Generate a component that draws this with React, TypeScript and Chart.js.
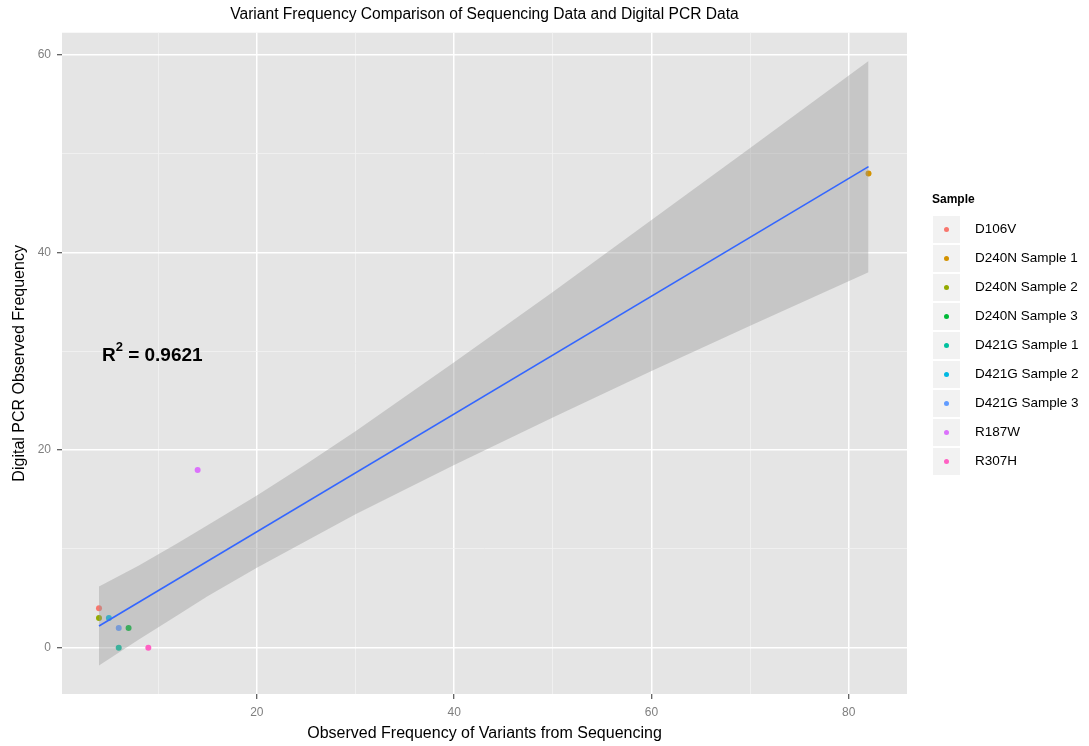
import React, { useEffect, useRef } from "react";
import { Chart, registerables } from "chart.js";

Chart.register(...registerables);

// ---- data ----
const sampleNames = [
  "D106V",
  "D240N Sample 1",
  "D240N Sample 2",
  "D240N Sample 3",
  "D421G Sample 1",
  "D421G Sample 2",
  "D421G Sample 3",
  "R187W",
  "R307H",
];
const sequencingFreq = [4, 82, 4, 7, 6, 5, 6, 14, 9];
const dpcrFreq = [4, 48, 3, 2, 0, 3, 2, 18, 0];
const sampleColors = [
  "#F8766D",
  "#D39200",
  "#93AA00",
  "#00BA38",
  "#00C19F",
  "#00B9E3",
  "#619CFF",
  "#DB72FB",
  "#FF61C3",
];

// confidence band of the linear fit
const bandX = [4, 8, 12, 15, 20, 25, 30, 40, 50, 60, 70, 82];
const bandLower = [-1.8, 0.8, 3.3, 5.2, 8.1, 10.8, 13.5, 18.5, 23.3, 28.0, 32.6, 38.0];
const bandUpper = [6.2, 8.3, 10.6, 12.4, 15.4, 18.6, 21.9, 28.9, 36.0, 43.3, 50.6, 59.4];
// fitted line end points
const fitX = [4, 82];
const fitY = [2.2, 48.7];

const xMajorTicks = [20, 40, 60, 80];
const xMinorTicks = [10, 30, 50, 70];
const yMajorTicks = [0, 20, 40, 60];
const yMinorTicks = [10, 30, 50];

const rSquaredText = "0.9621";
const rSquaredAt = { x: 9.4, y: 29.6 };

const titleText = "Variant Frequency Comparison of Sequencing Data and Digital PCR Data";
const xTitle = "Observed Frequency of Variants from Sequencing";
const yTitle = "Digital PCR Observed Frequency";
const legendTitle = "Sample";

const FONT = "'Liberation Sans', Arial, Helvetica, sans-serif";

export default function App() {
  const canvasRef = useRef<HTMLCanvasElement | null>(null);

  useEffect(() => {
    const canvas = canvasRef.current;
    if (!canvas) return;

    const panelPlugin = {
      id: "panelBg",
      beforeDraw(chart: any) {
        const { ctx, chartArea } = chart;
        ctx.save();
        ctx.fillStyle = "#FFFFFF";
        ctx.fillRect(0, 0, chart.width, chart.height);
        ctx.fillStyle = "#E5E5E5";
        ctx.fillRect(
          chartArea.left,
          chartArea.top,
          chartArea.right - chartArea.left,
          chartArea.bottom - chartArea.top
        );
        ctx.restore();
      },
    };

    const annotationPlugin = {
      id: "rsq",
      afterDatasetsDraw(chart: any) {
        const { ctx, scales } = chart;
        const cx = scales.x.getPixelForValue(rSquaredAt.x);
        const cy = scales.y.getPixelForValue(rSquaredAt.y);
        ctx.save();
        ctx.fillStyle = "#000000";
        ctx.textBaseline = "middle";
        const big = `bold 19px ${FONT}`;
        const small = `bold 13px ${FONT}`;
        ctx.font = big;
        const wR = ctx.measureText("R").width;
        const rest = " = " + rSquaredText;
        const wRest = ctx.measureText(rest).width;
        ctx.font = small;
        const w2 = ctx.measureText("2").width;
        const total = wR + w2 + wRest;
        let x = cx - total / 2;
        ctx.textAlign = "left";
        ctx.font = big;
        ctx.fillText("R", x, cy);
        x += wR;
        ctx.font = small;
        ctx.fillText("2", x, cy - 8);
        x += w2;
        ctx.font = big;
        ctx.fillText(rest, x, cy);
        ctx.restore();
      },
    };

    const legendPlugin = {
      id: "ggLegend",
      afterDraw(chart: any) {
        const { ctx, chartArea } = chart;
        const left = chartArea.right + 25;
        const keySize = 29;
        const top0 = 215;
        ctx.save();
        ctx.fillStyle = "#000000";
        ctx.font = `bold 12px ${FONT}`;
        ctx.textAlign = "left";
        ctx.textBaseline = "middle";
        ctx.fillText(legendTitle, left, 200);
        sampleNames.forEach((name, i) => {
          const y = top0 + i * keySize;
          ctx.fillStyle = "#F2F2F2";
          ctx.fillRect(left, y, keySize, keySize);
          ctx.strokeStyle = "#FFFFFF";
          ctx.lineWidth = 1;
          ctx.strokeRect(left + 0.5, y + 0.5, keySize - 1, keySize - 1);
          ctx.beginPath();
          ctx.fillStyle = sampleColors[i];
          ctx.arc(left + keySize / 2, y + keySize / 2, 2.5, 0, Math.PI * 2);
          ctx.fill();
          ctx.fillStyle = "#000000";
          ctx.font = `13.5px ${FONT}`;
          ctx.fillText(name, left + 43, y + keySize / 2);
        });
        ctx.restore();
      },
    };

    const pointSets = sampleNames.map((name, i) => ({
      label: name,
      data: [{ x: sequencingFreq[i], y: dpcrFreq[i] }],
      showLine: false,
      pointRadius: 3,
      pointHoverRadius: 3,
      pointBackgroundColor: sampleColors[i],
      pointBorderColor: sampleColors[i],
      pointBorderWidth: 0,
      order: 3,
    }));

    const gridColor = (majors: number[]) => (c: any) =>
      c.tick && majors.includes(c.tick.value) ? "#FFFFFF" : "#F2F2F2";
    const gridWidth = (majors: number[]) => (c: any) =>
      c.tick && majors.includes(c.tick.value) ? 1.5 : 0.8;
    const tickColor = (majors: number[]) => (c: any) =>
      c.tick && majors.includes(c.tick.value) ? "#333333" : "rgba(0,0,0,0)";

    const chart = new Chart(canvas, {
      type: "line",
      data: {
        datasets: [
          {
            label: "band lower",
            data: bandX.map((x, i) => ({ x, y: bandLower[i] })),
            borderWidth: 0,
            borderColor: "rgba(0,0,0,0)",
            pointRadius: 0,
            tension: 0,
            fill: false,
            order: 1,
          },
          {
            label: "band upper",
            data: bandX.map((x, i) => ({ x, y: bandUpper[i] })),
            borderWidth: 0,
            borderColor: "rgba(0,0,0,0)",
            backgroundColor: "rgba(153,153,153,0.4)",
            pointRadius: 0,
            tension: 0,
            fill: "-1",
            order: 1,
          },
          {
            label: "fit",
            data: fitX.map((x, i) => ({ x, y: fitY[i] })),
            borderColor: "#3366FF",
            borderWidth: 1.6,
            pointRadius: 0,
            fill: false,
            order: 0,
          },
          ...pointSets,
        ] as any,
      },
      plugins: [panelPlugin, annotationPlugin, legendPlugin],
      options: {
        animation: false,
        responsive: false,
        devicePixelRatio: 1,
        layout: { padding: { left: 0, right: 182, top: 0, bottom: 0 } },
        plugins: {
          legend: { display: false },
          tooltip: { enabled: false },
          title: {
            display: true,
            fullSize: false,
            text: titleText,
            color: "#000000",
            font: { family: FONT, size: 15.6, weight: "normal" },
            padding: { top: 5, bottom: 9 },
          },
        },
        scales: {
          x: {
            type: "linear",
            min: 0.25,
            max: 85.9,
            afterBuildTicks: (scale: any) => {
              scale.ticks = [...xMinorTicks, ...xMajorTicks]
                .sort((a, b) => a - b)
                .map((v) => ({ value: v }));
            },
            afterFit: (scale: any) => {
              scale.height = 52;
            },
            ticks: {
              autoSkip: false,
              maxRotation: 0,
              color: "#7F7F7F",
              font: { family: FONT, size: 12 },
              padding: 6,
              callback: (v: any) => (xMajorTicks.includes(Number(v)) ? String(v) : ""),
            },
            grid: {
              color: gridColor(xMajorTicks),
              lineWidth: gridWidth(xMajorTicks),
              tickColor: tickColor(xMajorTicks),
              tickLength: 5,
              tickWidth: 1,
              drawTicks: true,
            },
            border: { display: false },
            title: {
              display: true,
              text: xTitle,
              color: "#000000",
              font: { family: FONT, size: 16 },
              padding: { top: 0, bottom: 3 },
            },
          },
          y: {
            type: "linear",
            min: -4.69,
            max: 62.26,
            afterBuildTicks: (scale: any) => {
              scale.ticks = [...yMinorTicks, ...yMajorTicks]
                .sort((a, b) => a - b)
                .map((v) => ({ value: v }));
            },
            afterFit: (scale: any) => {
              scale.width = 62;
            },
            ticks: {
              autoSkip: false,
              color: "#7F7F7F",
              font: { family: FONT, size: 12 },
              padding: 6,
              callback: (v: any) => (yMajorTicks.includes(Number(v)) ? String(v) : ""),
            },
            grid: {
              color: gridColor(yMajorTicks),
              lineWidth: gridWidth(yMajorTicks),
              tickColor: tickColor(yMajorTicks),
              tickLength: 5,
              tickWidth: 1,
              drawTicks: true,
            },
            border: { display: false },
            title: {
              display: true,
              text: yTitle,
              color: "#000000",
              font: { family: FONT, size: 16 },
              padding: { top: 10, bottom: 0 },
            },
          },
        },
      } as any,
    });

    return () => {
      chart.destroy();
    };
  }, []);

  return (
    <div style={{ position: "absolute", left: 0, top: 0, width: 1089, height: 746, background: "#FFFFFF" }}>
      <canvas ref={canvasRef} width={1089} height={746} style={{ width: 1089, height: 746, display: "block" }} />
    </div>
  );
}
